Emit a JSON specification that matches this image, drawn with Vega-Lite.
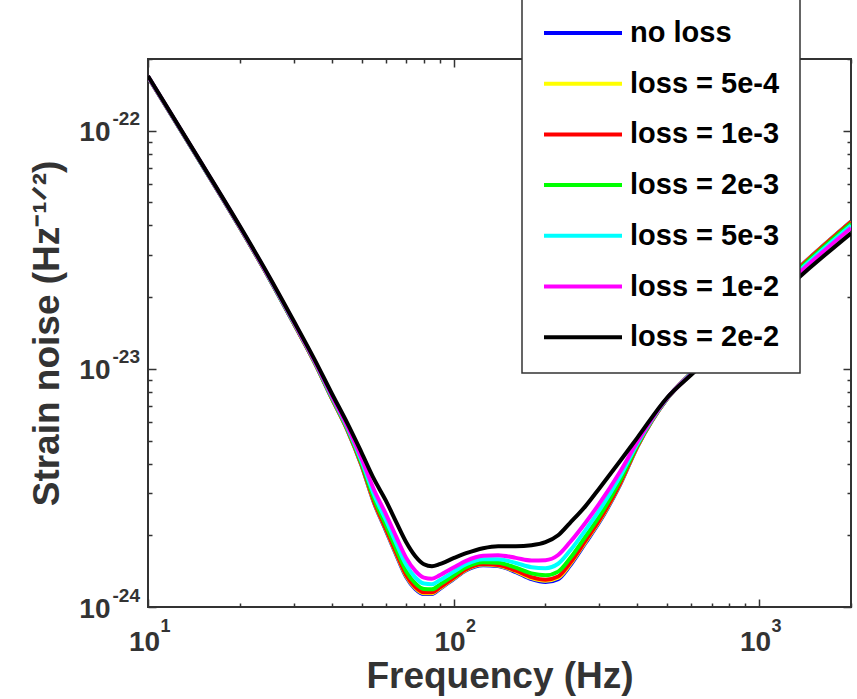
{
  "$schema": "https://vega.github.io/schema/vega-lite/v6.json",
  "autosize": {"type": "none"},
  "width": 703,
  "height": 548,
  "padding": {"left": 148, "top": 59, "right": 6, "bottom": 92},
  "background": "white",
  "config": {
    "view": {"stroke": "#333333", "strokeWidth": 2},
    "axis": {"grid": false, "domain": false, "tickColor": "#333333", "tickWidth": 1.5, "labelFont": "Liberation Sans", "labelFontWeight": "bold", "labelColor": "#333333", "titleFont": "Liberation Sans", "titleFontWeight": "bold", "titleColor": "#333333", "labelOverlap": false, "labelFlush": false},
    "legend": {"strokeWidth": 1.5}
  },
  "data": {"values": [
    {"s":"no loss","f":10,"h":1.682e-22},{"s":"no loss","f":15,"h":7.205e-23},{"s":"no loss","f":20,"h":3.909e-23},{"s":"no loss","f":25,"h":2.380e-23},{"s":"no loss","f":30,"h":1.550e-23},{"s":"no loss","f":35,"h":1.070e-23},{"s":"no loss","f":40,"h":7.490e-24},{"s":"no loss","f":45,"h":5.503e-24},{"s":"no loss","f":50,"h":3.928e-24},{"s":"no loss","f":55,"h":2.724e-24},{"s":"no loss","f":60,"h":2.100e-24},{"s":"no loss","f":65,"h":1.650e-24},{"s":"no loss","f":70,"h":1.336e-24},{"s":"no loss","f":75,"h":1.190e-24},{"s":"no loss","f":80,"h":1.133e-24},{"s":"no loss","f":85,"h":1.133e-24},{"s":"no loss","f":90,"h":1.189e-24},{"s":"no loss","f":100,"h":1.309e-24},{"s":"no loss","f":110,"h":1.428e-24},{"s":"no loss","f":125,"h":1.499e-24},{"s":"no loss","f":140,"h":1.485e-24},{"s":"no loss","f":160,"h":1.401e-24},{"s":"no loss","f":180,"h":1.309e-24},{"s":"no loss","f":200,"h":1.273e-24},{"s":"no loss","f":220,"h":1.310e-24},{"s":"no loss","f":240,"h":1.485e-24},{"s":"no loss","f":270,"h":1.853e-24},{"s":"no loss","f":300,"h":2.268e-24},{"s":"no loss","f":350,"h":3.239e-24},{"s":"no loss","f":400,"h":4.717e-24},{"s":"no loss","f":500,"h":7.490e-24},{"s":"no loss","f":600,"h":9.623e-24},{"s":"no loss","f":800,"h":1.375e-23},{"s":"no loss","f":1000,"h":1.818e-23},{"s":"no loss","f":1400,"h":2.777e-23},{"s":"no loss","f":2000,"h":4.161e-23},
    {"s":"loss = 5e-4","f":10,"h":1.682e-22},{"s":"loss = 5e-4","f":15,"h":7.207e-23},{"s":"loss = 5e-4","f":20,"h":3.911e-23},{"s":"loss = 5e-4","f":25,"h":2.381e-23},{"s":"loss = 5e-4","f":30,"h":1.551e-23},{"s":"loss = 5e-4","f":35,"h":1.071e-23},{"s":"loss = 5e-4","f":40,"h":7.501e-24},{"s":"loss = 5e-4","f":45,"h":5.514e-24},{"s":"loss = 5e-4","f":50,"h":3.943e-24},{"s":"loss = 5e-4","f":55,"h":2.743e-24},{"s":"loss = 5e-4","f":60,"h":2.119e-24},{"s":"loss = 5e-4","f":65,"h":1.666e-24},{"s":"loss = 5e-4","f":70,"h":1.349e-24},{"s":"loss = 5e-4","f":75,"h":1.201e-24},{"s":"loss = 5e-4","f":80,"h":1.143e-24},{"s":"loss = 5e-4","f":85,"h":1.142e-24},{"s":"loss = 5e-4","f":90,"h":1.198e-24},{"s":"loss = 5e-4","f":100,"h":1.317e-24},{"s":"loss = 5e-4","f":110,"h":1.435e-24},{"s":"loss = 5e-4","f":125,"h":1.507e-24},{"s":"loss = 5e-4","f":140,"h":1.493e-24},{"s":"loss = 5e-4","f":160,"h":1.412e-24},{"s":"loss = 5e-4","f":180,"h":1.322e-24},{"s":"loss = 5e-4","f":200,"h":1.288e-24},{"s":"loss = 5e-4","f":220,"h":1.326e-24},{"s":"loss = 5e-4","f":240,"h":1.503e-24},{"s":"loss = 5e-4","f":270,"h":1.873e-24},{"s":"loss = 5e-4","f":300,"h":2.290e-24},{"s":"loss = 5e-4","f":350,"h":3.262e-24},{"s":"loss = 5e-4","f":400,"h":4.729e-24},{"s":"loss = 5e-4","f":500,"h":7.492e-24},{"s":"loss = 5e-4","f":600,"h":9.617e-24},{"s":"loss = 5e-4","f":800,"h":1.373e-23},{"s":"loss = 5e-4","f":1000,"h":1.814e-23},{"s":"loss = 5e-4","f":1400,"h":2.769e-23},{"s":"loss = 5e-4","f":2000,"h":4.147e-23},
    {"s":"loss = 1e-3","f":10,"h":1.683e-22},{"s":"loss = 1e-3","f":15,"h":7.209e-23},{"s":"loss = 1e-3","f":20,"h":3.912e-23},{"s":"loss = 1e-3","f":25,"h":2.382e-23},{"s":"loss = 1e-3","f":30,"h":1.552e-23},{"s":"loss = 1e-3","f":35,"h":1.072e-23},{"s":"loss = 1e-3","f":40,"h":7.512e-24},{"s":"loss = 1e-3","f":45,"h":5.525e-24},{"s":"loss = 1e-3","f":50,"h":3.958e-24},{"s":"loss = 1e-3","f":55,"h":2.762e-24},{"s":"loss = 1e-3","f":60,"h":2.137e-24},{"s":"loss = 1e-3","f":65,"h":1.682e-24},{"s":"loss = 1e-3","f":70,"h":1.363e-24},{"s":"loss = 1e-3","f":75,"h":1.213e-24},{"s":"loss = 1e-3","f":80,"h":1.153e-24},{"s":"loss = 1e-3","f":85,"h":1.152e-24},{"s":"loss = 1e-3","f":90,"h":1.206e-24},{"s":"loss = 1e-3","f":100,"h":1.325e-24},{"s":"loss = 1e-3","f":110,"h":1.442e-24},{"s":"loss = 1e-3","f":125,"h":1.514e-24},{"s":"loss = 1e-3","f":140,"h":1.502e-24},{"s":"loss = 1e-3","f":160,"h":1.422e-24},{"s":"loss = 1e-3","f":180,"h":1.335e-24},{"s":"loss = 1e-3","f":200,"h":1.302e-24},{"s":"loss = 1e-3","f":220,"h":1.343e-24},{"s":"loss = 1e-3","f":240,"h":1.522e-24},{"s":"loss = 1e-3","f":270,"h":1.893e-24},{"s":"loss = 1e-3","f":300,"h":2.313e-24},{"s":"loss = 1e-3","f":350,"h":3.285e-24},{"s":"loss = 1e-3","f":400,"h":4.741e-24},{"s":"loss = 1e-3","f":500,"h":7.495e-24},{"s":"loss = 1e-3","f":600,"h":9.612e-24},{"s":"loss = 1e-3","f":800,"h":1.371e-23},{"s":"loss = 1e-3","f":1000,"h":1.810e-23},{"s":"loss = 1e-3","f":1400,"h":2.761e-23},{"s":"loss = 1e-3","f":2000,"h":4.133e-23},
    {"s":"loss = 2e-3","f":10,"h":1.684e-22},{"s":"loss = 2e-3","f":15,"h":7.217e-23},{"s":"loss = 2e-3","f":20,"h":3.919e-23},{"s":"loss = 2e-3","f":25,"h":2.388e-23},{"s":"loss = 2e-3","f":30,"h":1.557e-23},{"s":"loss = 2e-3","f":35,"h":1.075e-23},{"s":"loss = 2e-3","f":40,"h":7.552e-24},{"s":"loss = 2e-3","f":45,"h":5.567e-24},{"s":"loss = 2e-3","f":50,"h":4.012e-24},{"s":"loss = 2e-3","f":55,"h":2.833e-24},{"s":"loss = 2e-3","f":60,"h":2.206e-24},{"s":"loss = 2e-3","f":65,"h":1.742e-24},{"s":"loss = 2e-3","f":70,"h":1.414e-24},{"s":"loss = 2e-3","f":75,"h":1.256e-24},{"s":"loss = 2e-3","f":80,"h":1.190e-24},{"s":"loss = 2e-3","f":85,"h":1.186e-24},{"s":"loss = 2e-3","f":90,"h":1.239e-24},{"s":"loss = 2e-3","f":100,"h":1.355e-24},{"s":"loss = 2e-3","f":110,"h":1.468e-24},{"s":"loss = 2e-3","f":125,"h":1.542e-24},{"s":"loss = 2e-3","f":140,"h":1.534e-24},{"s":"loss = 2e-3","f":160,"h":1.462e-24},{"s":"loss = 2e-3","f":180,"h":1.384e-24},{"s":"loss = 2e-3","f":200,"h":1.359e-24},{"s":"loss = 2e-3","f":220,"h":1.408e-24},{"s":"loss = 2e-3","f":240,"h":1.593e-24},{"s":"loss = 2e-3","f":270,"h":1.968e-24},{"s":"loss = 2e-3","f":300,"h":2.398e-24},{"s":"loss = 2e-3","f":350,"h":3.369e-24},{"s":"loss = 2e-3","f":400,"h":4.787e-24},{"s":"loss = 2e-3","f":500,"h":7.503e-24},{"s":"loss = 2e-3","f":600,"h":9.591e-24},{"s":"loss = 2e-3","f":800,"h":1.363e-23},{"s":"loss = 2e-3","f":1000,"h":1.797e-23},{"s":"loss = 2e-3","f":1400,"h":2.732e-23},{"s":"loss = 2e-3","f":2000,"h":4.080e-23},
    {"s":"loss = 5e-3","f":10,"h":1.687e-22},{"s":"loss = 5e-3","f":15,"h":7.230e-23},{"s":"loss = 5e-3","f":20,"h":3.929e-23},{"s":"loss = 5e-3","f":25,"h":2.396e-23},{"s":"loss = 5e-3","f":30,"h":1.563e-23},{"s":"loss = 5e-3","f":35,"h":1.081e-23},{"s":"loss = 5e-3","f":40,"h":7.618e-24},{"s":"loss = 5e-3","f":45,"h":5.634e-24},{"s":"loss = 5e-3","f":50,"h":4.104e-24},{"s":"loss = 5e-3","f":55,"h":2.953e-24},{"s":"loss = 5e-3","f":60,"h":2.324e-24},{"s":"loss = 5e-3","f":65,"h":1.845e-24},{"s":"loss = 5e-3","f":70,"h":1.503e-24},{"s":"loss = 5e-3","f":75,"h":1.330e-24},{"s":"loss = 5e-3","f":80,"h":1.254e-24},{"s":"loss = 5e-3","f":85,"h":1.245e-24},{"s":"loss = 5e-3","f":90,"h":1.294e-24},{"s":"loss = 5e-3","f":100,"h":1.405e-24},{"s":"loss = 5e-3","f":110,"h":1.512e-24},{"s":"loss = 5e-3","f":125,"h":1.588e-24},{"s":"loss = 5e-3","f":140,"h":1.588e-24},{"s":"loss = 5e-3","f":160,"h":1.530e-24},{"s":"loss = 5e-3","f":180,"h":1.469e-24},{"s":"loss = 5e-3","f":200,"h":1.456e-24},{"s":"loss = 5e-3","f":220,"h":1.519e-24},{"s":"loss = 5e-3","f":240,"h":1.717e-24},{"s":"loss = 5e-3","f":270,"h":2.099e-24},{"s":"loss = 5e-3","f":300,"h":2.544e-24},{"s":"loss = 5e-3","f":350,"h":3.512e-24},{"s":"loss = 5e-3","f":400,"h":4.862e-24},{"s":"loss = 5e-3","f":500,"h":7.516e-24},{"s":"loss = 5e-3","f":600,"h":9.558e-24},{"s":"loss = 5e-3","f":800,"h":1.352e-23},{"s":"loss = 5e-3","f":1000,"h":1.775e-23},{"s":"loss = 5e-3","f":1400,"h":2.685e-23},{"s":"loss = 5e-3","f":2000,"h":3.996e-23},
    {"s":"loss = 1e-2","f":10,"h":1.691e-22},{"s":"loss = 1e-2","f":15,"h":7.244e-23},{"s":"loss = 1e-2","f":20,"h":3.940e-23},{"s":"loss = 1e-2","f":25,"h":2.405e-23},{"s":"loss = 1e-2","f":30,"h":1.571e-23},{"s":"loss = 1e-2","f":35,"h":1.087e-23},{"s":"loss = 1e-2","f":40,"h":7.691e-24},{"s":"loss = 1e-2","f":45,"h":5.711e-24},{"s":"loss = 1e-2","f":50,"h":4.208e-24},{"s":"loss = 1e-2","f":55,"h":3.093e-24},{"s":"loss = 1e-2","f":60,"h":2.462e-24},{"s":"loss = 1e-2","f":65,"h":1.966e-24},{"s":"loss = 1e-2","f":70,"h":1.608e-24},{"s":"loss = 1e-2","f":75,"h":1.417e-24},{"s":"loss = 1e-2","f":80,"h":1.328e-24},{"s":"loss = 1e-2","f":85,"h":1.314e-24},{"s":"loss = 1e-2","f":90,"h":1.358e-24},{"s":"loss = 1e-2","f":100,"h":1.464e-24},{"s":"loss = 1e-2","f":110,"h":1.563e-24},{"s":"loss = 1e-2","f":125,"h":1.641e-24},{"s":"loss = 1e-2","f":140,"h":1.650e-24},{"s":"loss = 1e-2","f":160,"h":1.608e-24},{"s":"loss = 1e-2","f":180,"h":1.568e-24},{"s":"loss = 1e-2","f":200,"h":1.573e-24},{"s":"loss = 1e-2","f":220,"h":1.653e-24},{"s":"loss = 1e-2","f":240,"h":1.865e-24},{"s":"loss = 1e-2","f":270,"h":2.254e-24},{"s":"loss = 1e-2","f":300,"h":2.716e-24},{"s":"loss = 1e-2","f":350,"h":3.679e-24},{"s":"loss = 1e-2","f":400,"h":4.947e-24},{"s":"loss = 1e-2","f":500,"h":7.531e-24},{"s":"loss = 1e-2","f":600,"h":9.521e-24},{"s":"loss = 1e-2","f":800,"h":1.339e-23},{"s":"loss = 1e-2","f":1000,"h":1.751e-23},{"s":"loss = 1e-2","f":1400,"h":2.634e-23},{"s":"loss = 1e-2","f":2000,"h":3.905e-23},
    {"s":"loss = 2e-2","f":10,"h":1.698e-22},{"s":"loss = 2e-2","f":15,"h":7.275e-23},{"s":"loss = 2e-2","f":20,"h":3.966e-23},{"s":"loss = 2e-2","f":25,"h":2.426e-23},{"s":"loss = 2e-2","f":30,"h":1.588e-23},{"s":"loss = 2e-2","f":35,"h":1.101e-23},{"s":"loss = 2e-2","f":40,"h":7.860e-24},{"s":"loss = 2e-2","f":45,"h":5.887e-24},{"s":"loss = 2e-2","f":50,"h":4.452e-24},{"s":"loss = 2e-2","f":55,"h":3.432e-24},{"s":"loss = 2e-2","f":60,"h":2.804e-24},{"s":"loss = 2e-2","f":65,"h":2.268e-24},{"s":"loss = 2e-2","f":70,"h":1.871e-24},{"s":"loss = 2e-2","f":75,"h":1.635e-24},{"s":"loss = 2e-2","f":80,"h":1.513e-24},{"s":"loss = 2e-2","f":85,"h":1.484e-24},{"s":"loss = 2e-2","f":90,"h":1.513e-24},{"s":"loss = 2e-2","f":100,"h":1.603e-24},{"s":"loss = 2e-2","f":110,"h":1.682e-24},{"s":"loss = 2e-2","f":125,"h":1.766e-24},{"s":"loss = 2e-2","f":140,"h":1.800e-24},{"s":"loss = 2e-2","f":160,"h":1.800e-24},{"s":"loss = 2e-2","f":180,"h":1.817e-24},{"s":"loss = 2e-2","f":200,"h":1.871e-24},{"s":"loss = 2e-2","f":220,"h":2.001e-24},{"s":"loss = 2e-2","f":240,"h":2.247e-24},{"s":"loss = 2e-2","f":270,"h":2.646e-24},{"s":"loss = 2e-2","f":300,"h":3.147e-24},{"s":"loss = 2e-2","f":350,"h":4.082e-24},{"s":"loss = 2e-2","f":400,"h":5.144e-24},{"s":"loss = 2e-2","f":500,"h":7.563e-24},{"s":"loss = 2e-2","f":600,"h":9.439e-24},{"s":"loss = 2e-2","f":800,"h":1.310e-23},{"s":"loss = 2e-2","f":1000,"h":1.699e-23},{"s":"loss = 2e-2","f":1400,"h":2.522e-23},{"s":"loss = 2e-2","f":2000,"h":3.707e-23}
  ]},
  "layer": [
    {
      "mark": {"type": "line", "strokeWidth": 4, "clip": true, "interpolate": "monotone"},
      "encoding": {
        "x": {"field": "f", "type": "quantitative", "scale": {"type": "log", "domain": [10, 2000], "nice": false},
          "axis": {"orient": "bottom", "values": [10,20,30,40,50,60,70,80,90,100,200,300,400,500,600,700,800,900,1000,2000],
            "labels": false, "title": null,
            "tickSize": {"condition": {"test": "datum.value == 10 || datum.value == 100 || datum.value == 1000", "value": -8}, "value": -4}}},
        "y": {"field": "h", "type": "quantitative", "scale": {"type": "log", "domain": [1e-24, 2e-22], "nice": false},
          "axis": {"orient": "left", "values": [1e-24,2e-24,3e-24,4e-24,5e-24,6e-24,7e-24,8e-24,9e-24,1e-23,2e-23,3e-23,4e-23,5e-23,6e-23,7e-23,8e-23,9e-23,1e-22,2e-22],
            "labels": false, "title": null,
            "tickSize": {"condition": {"test": "datum.value == 1e-24 || datum.value == 1e-23 || datum.value == 1e-22", "value": -8}, "value": -4}}},
        "color": {"field": "s", "type": "nominal",
          "scale": {"domain": ["no loss","loss = 5e-4","loss = 1e-3","loss = 2e-3","loss = 5e-3","loss = 1e-2","loss = 2e-2"],
            "range": ["#0000ff","#ffff00","#ff0000","#00ff00","#00ffff","#ff00ff","#000000"]},
          "legend": {"title": null, "orient": "none", "legendX": 374, "legendY": -60, "padding": 20,
            "fillColor": "white", "strokeColor": "#333333", "symbolType": "stroke", "symbolSize": 6084,
            "symbolStrokeWidth": 4, "clipHeight": 28, "rowPadding": 21.7,
            "labelFont": "Liberation Sans", "labelFontWeight": "bold", "labelFontSize": 29, "labelColor": "#000000", "labelOffset": 6}}
      }
    },
    {
      "mark": {"type": "point", "opacity": 0},
      "encoding": {
        "x": {"field": "f", "type": "quantitative",
          "axis": {"orient": "top", "values": [10,20,30,40,50,60,70,80,90,100,200,300,400,500,600,700,800,900,1000,2000], "labels": false, "title": null,
            "tickSize": {"condition": {"test": "datum.value == 10 || datum.value == 100 || datum.value == 1000", "value": -8}, "value": -4}}},
        "y": {"field": "h", "type": "quantitative",
          "axis": {"orient": "right", "values": [1e-24,2e-24,3e-24,4e-24,5e-24,6e-24,7e-24,8e-24,9e-24,1e-23,2e-23,3e-23,4e-23,5e-23,6e-23,7e-23,8e-23,9e-23,1e-22,2e-22], "labels": false, "title": null,
            "tickSize": {"condition": {"test": "datum.value == 1e-24 || datum.value == 1e-23 || datum.value == 1e-22", "value": -8}, "value": -4}}}
      }
    },
    {
      "mark": {"type": "point", "opacity": 0},
      "encoding": {
        "x": {"field": "f", "type": "quantitative",
          "axis": {"orient": "bottom", "values": [10, 100, 1000], "ticks": false, "labelExpr": "'10'",
            "labelFontSize": 28, "labelPadding": 21, "labelOffset": -4,
            "title": "Frequency (Hz)", "titleFontSize": 37, "titlePadding": 2}},
        "y": {"field": "h", "type": "quantitative",
          "axis": {"orient": "left", "values": [1e-24, 1e-23, 1e-22], "ticks": false, "labelExpr": "'10'",
            "labelFontSize": 28, "labelPadding": 38, "labelOffset": 2,
            "title": "Strain noise (Hz⁻¹ᐟ²)", "titleFontSize": 37, "titlePadding": 12}}
      }
    },
    {
      "mark": {"type": "point", "opacity": 0},
      "encoding": {
        "x": {"field": "f", "type": "quantitative",
          "axis": {"orient": "bottom", "values": [10, 100, 1000], "ticks": false,
            "labelExpr": "datum.value == 10 ? '1' : datum.value == 100 ? '2' : '3'",
            "labelFontSize": 18, "labelPadding": 10, "labelOffset": 17, "title": null}},
        "y": {"field": "h", "type": "quantitative",
          "axis": {"orient": "left", "values": [1e-24, 1e-23, 1e-22], "ticks": false,
            "labelExpr": "datum.value == 1e-24 ? '-24' : datum.value == 1e-23 ? '-23' : '-22'",
            "labelFontSize": 19, "labelAlign": "left", "labelPadding": 36, "labelOffset": -12, "title": null}}
      }
    }
  ],
  "resolve": {"axis": {"x": "independent", "y": "independent"}}
}
